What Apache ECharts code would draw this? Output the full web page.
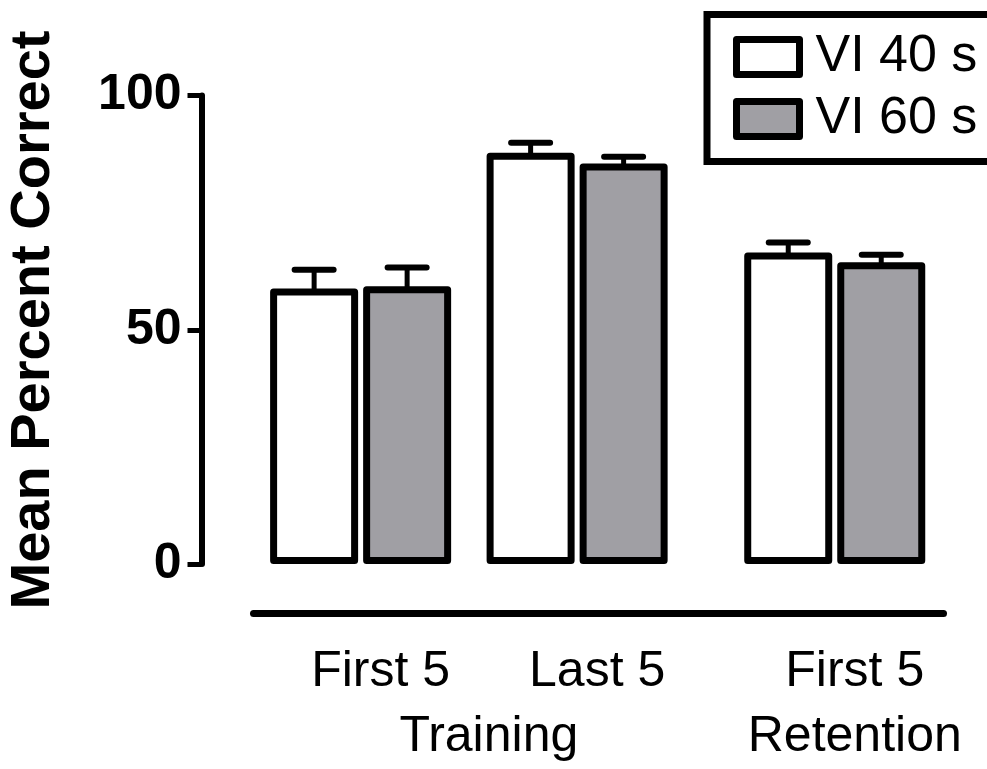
<!DOCTYPE html>
<html>
<head>
<meta charset="utf-8">
<script src="https://cdn.jsdelivr.net/npm/echarts@6/dist/echarts.min.js"></script>
<style>
html,body{margin:0;padding:0;background:#fff;}
#chart{width:987px;height:769px;}
</style>
</head>
<body>
<div id="chart"></div>
<script>
// ---- data ----
const categories = ['First 5', 'Last 5', 'First 5'];
const groupPos = [1, 2, 3.19];
const phases = ['Training', 'Retention'];
const phasePos = [1.5, 3.19];
const seriesNames = ['VI 40 s', 'VI 60 s'];
const vi40Mean = [58.8, 87.8, 66.5];
const vi40Sem = [4.0, 2.1, 2.1];
const vi60Mean = [59.3, 85.5, 64.4];
const vi60Sem = [4.0, 1.4, 1.6];
const yTicks = [0, 50, 100];
const yTitle = 'Mean Percent Correct';

// ---- layout / style ----
const BAR_W = 88;
const BAR_OFFSET = 46.5;
const REG = "'Liberation Sans', Arial, sans-serif";

const chart = echarts.init(document.getElementById('chart'), null, {renderer: 'canvas'});

function errRender(offset) {
  return function (params, api) {
    const x = api.value(0), m = api.value(1), e = api.value(2);
    const base = api.coord([x, m]);
    const top = api.coord([x, m + e]);
    const cx = base[0] + offset;
    return {
      type: 'group',
      children: [
        {type: 'line', shape: {x1: cx, y1: base[1] + 3, x2: cx, y2: top[1]}, style: {stroke: '#000', lineWidth: 5}},
        {type: 'line', shape: {x1: cx - 19.5, y1: top[1], x2: cx + 19.5, y2: top[1]}, style: {stroke: '#000', lineWidth: 6, lineCap: 'round'}}
      ]
    };
  };
}

const xMin = 0.265, xMax = 3.8;

const option = {
  animation: false,
  backgroundColor: '#fff',
  grid: {left: 201.5, right: 20.2, top: 95.5, bottom: 205, containLabel: false, outerBoundsMode: 'none'},
  xAxis: [
    {
      type: 'value', min: xMin, max: xMax, position: 'bottom',
      axisLine: {show: false}, axisTick: {show: false}, splitLine: {show: false},
      axisLabel: {
        customValues: groupPos,
        formatter: function (v) { const i = groupPos.indexOf(v); return i >= 0 ? categories[i] : ''; },
        fontFamily: REG, fontSize: 50, color: '#000', margin: 83, padding: [0, 0, 0, 40]
      }
    },
    {
      type: 'value', min: xMin, max: xMax, position: 'bottom', gridIndex: 0,
      axisLine: {show: false}, axisTick: {show: false}, splitLine: {show: false},
      axisLabel: {
        customValues: phasePos,
        formatter: function (v) { const i = phasePos.indexOf(v); return i >= 0 ? phases[i] : ''; },
        fontFamily: REG, fontSize: 50, color: '#000', margin: 148, padding: [0, 0, 0, 40]
      }
    }
  ],
  yAxis: {
    type: 'value', min: 0, max: 100, interval: 50,
    axisLine: {show: true, lineStyle: {color: '#000', width: 6}},
    axisTick: {show: true, length: 14, lineStyle: {color: '#000', width: 5}},
    splitLine: {show: false},
    axisLabel: {
      fontFamily: REG, fontWeight: 'bold', fontSize: 50, color: '#000', margin: 20,
      formatter: function (v) { return yTicks.indexOf(v) >= 0 ? String(v) : ''; }
    }
  },
  legend: {
    orient: 'vertical', left: 707, top: 14.5,
    padding: [16.5, 60, 16.5, 26],
    backgroundColor: '#fff', borderColor: '#000', borderWidth: 7, borderRadius: 0,
    itemWidth: 63, itemHeight: 35, itemGap: 10, icon: 'rect',
    selectedMode: false,
    textStyle: {fontFamily: REG, fontSize: 52, color: '#000', lineHeight: 50, padding: [0, 0, 0, 11]},
    itemStyle: {borderWidth: 7, borderColor: '#000'},
    data: seriesNames
  },
  graphic: [
    {
      type: 'text', x: 34, y: 320, rotation: Math.PI / 2,
      style: {text: yTitle, font: "bold 56px 'Liberation Sans', Arial, sans-serif", fill: '#000', align: 'center', verticalAlign: 'middle'}
    },
    {
      type: 'line', shape: {x1: 253.5, y1: 613.5, x2: 943.5, y2: 613.5},
      style: {stroke: '#000', lineWidth: 7, lineCap: 'round'}
    }
  ],
  series: [
    {
      name: seriesNames[0], type: 'bar', barWidth: BAR_W, barGap: '5.7%',
      itemStyle: {color: '#ffffff', borderColor: '#000', borderWidth: 7, borderJoin: 'round'},
      data: groupPos.map((x, i) => [x, vi40Mean[i]]), z: 3
    },
    {
      name: seriesNames[1], type: 'bar', barWidth: BAR_W, barGap: '5.7%',
      itemStyle: {color: '#a09fa4', borderColor: '#000', borderWidth: 7, borderJoin: 'round'},
      data: groupPos.map((x, i) => [x, vi60Mean[i]]), z: 3
    },
    {
      name: 'err40', type: 'custom', renderItem: errRender(-BAR_OFFSET), z: 2,
      encode: {x: 0, y: 1},
      data: groupPos.map((x, i) => [x, vi40Mean[i], vi40Sem[i]])
    },
    {
      name: 'err60', type: 'custom', renderItem: errRender(BAR_OFFSET), z: 2,
      encode: {x: 0, y: 1},
      data: groupPos.map((x, i) => [x, vi60Mean[i], vi60Sem[i]])
    }
  ]
};
chart.setOption(option);
</script>
</body>
</html>
